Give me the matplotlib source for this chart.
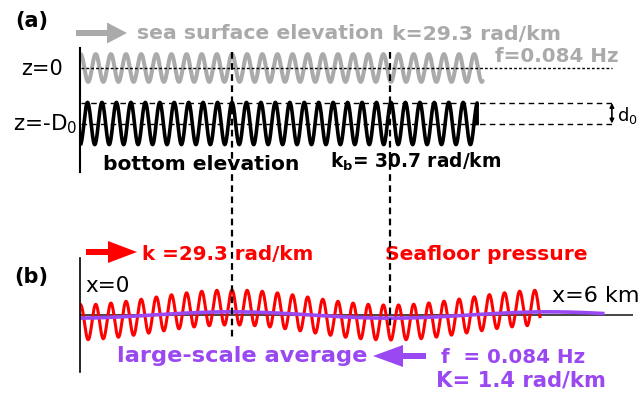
import numpy as np
import matplotlib
matplotlib.use("Agg")
import matplotlib.pyplot as plt
from matplotlib.patches import FancyArrow
from matplotlib.transforms import blended_transform_factory

# ---- data (values read from the schematic) ----
k_surface = 29.3      # rad/km, sea surface wave
k_bottom = 30.7       # rad/km, bottom undulation
K_large = 1.4         # rad/km, large-scale pattern (k_b - k)
f_wave = 0.084        # Hz
amp_surface = 0.25    # in units of D0
amp_bottom = 0.38
d0 = 0.37
amp_pressure = 1.0    # normalised seafloor pressure
mean_pressure = 0.43
amp_average = 0.18
x_phase = 2.139       # km, where surface and bottom are in phase
x_surface_end = 5.69
x_red_end = 6.50
x_avg_end = 7.39
x_line_end = 7.52
x_axis_end = 7.819

W, H = 643, 393
fig = plt.figure(figsize=(W / 100, H / 100), dpi=100)

def fr(px0, py0, px1, py1):
    return [px0 / W, 1 - py1 / H, (px1 - px0) / W, (py1 - py0) / H]

x_left = -1 / 70.6

# ---- panel (a) ----
axA = fig.add_axes(fr(80, 48, 633, 172))
axA.set_xlim(x_left, x_axis_end)
axA.set_ylim(-104 / 55.5, 20 / 55.5)
axA.patch.set_alpha(0)
for s in ["top", "right", "bottom"]:
    axA.spines[s].set_visible(False)
axA.spines["left"].set_linewidth(1.5)
axA.set_xticks([]); axA.set_yticks([])

lam_s = 2 * np.pi / k_surface
lam_b = 2 * np.pi / k_bottom
x_half = np.pi / K_large

xs = np.linspace(0, x_surface_end, 1500)
axA.plot(xs, amp_surface * np.cos(k_surface * (xs - x_phase)),
         color="#aaaaaa", lw=2.9, solid_capstyle="round")
xb_end = x_phase + x_half + 6 * lam_b
xb = np.linspace(0, xb_end, 1500)
zb = -1 + amp_bottom * np.cos(k_bottom * (xb - x_phase))
xb = np.append(xb, xb_end); zb = np.append(zb, -1)
axA.plot(xb, zb, color="black", lw=2.6)

axA.plot([0, x_line_end], [0, 0], color="black", lw=1.0, dashes=(2, 1.5))
axA.plot([0, x_line_end], [-1, -1], color="black", lw=1.0, dashes=(4, 3))
axA.plot([0, x_line_end], [-1 + d0, -1 + d0], color="black", lw=1.0, dashes=(4, 3))
axA.annotate("", xy=(x_line_end, -1 + d0), xytext=(x_line_end, -1),
             arrowprops=dict(arrowstyle="<|-|>", lw=1.2, color="black",
                             mutation_scale=6, shrinkA=0, shrinkB=0))

# ---- panel (b) ----
axB = fig.add_axes(fr(80, 258, 633, 372))
axB.set_xlim(x_left, x_axis_end)
axB.set_ylim(-57 / 17.5, 57 / 17.5)
axB.patch.set_alpha(0)
for s in ["top", "right", "bottom"]:
    axB.spines[s].set_visible(False)
axB.spines["left"].set_linewidth(1.2)
axB.set_xticks([]); axB.set_yticks([])

axB.plot([x_left, x_axis_end], [0, 0], color="#444444", lw=1.4)
xr = np.linspace(0, x_red_end, 1500)
axB.plot(xr, mean_pressure * np.cos(K_large * (xr - x_phase))
         + amp_pressure * np.cos(k_surface * (xr - x_phase)),
         color="#ff0000", lw=2.2)
xp = np.linspace(x_left, x_avg_end, 500)
axB.plot(xp, amp_average * np.cos(K_large * (xp - x_phase)),
         color="#9a48f2", lw=2.6)

# vertical dashed guide lines spanning both panels
tr = blended_transform_factory(axA.transData, fig.transFigure)
for xv, ybot in [(x_phase, 337), (x_phase + x_half, 330)]:
    fig.add_artist(plt.Line2D([xv, xv], [1 - 52 / H, 1 - ybot / H], transform=tr,
                              color="black", lw=1.6, dashes=(3, 2), zorder=5))

# ---- overlay for text and arrows ----
ov = fig.add_axes([0, 0, 1, 1])
ov.set_xlim(0, W); ov.set_ylim(H, 0); ov.axis("off"); ov.patch.set_alpha(0)

GRAY = "#aaaaaa"; RED = "#ff0000"; PUR = "#9a48f2"

def T(x, y, s, size, color="black", bold=True, ha="left"):
    ov.text(x, y, s, fontsize=size, color=color, ha=ha, va="baseline",
            fontweight="bold" if bold else "normal", family="DejaVu Sans")

T(15, 27.5, "(a)", 15)
T(137, 39, "sea surface elevation", 14.7, GRAY)
T(392, 39.5, "k=29.3 rad/km", 14.7, GRAY)
T(495, 62.5, "f=0.084 Hz", 14.3, GRAY)
T(63, 75, "z=0", 15, bold=False, ha="right")
T(77, 130, r"z=-D$_0$", 15.5, bold=False, ha="right")
T(617, 121.5, r"d$_0$", 13, bold=False)
T(103, 169.5, "bottom elevation", 14.6)
T(330, 168, r"k$_{\bf b}$= 30.7 rad/km", 13.4)

T(14, 283.5, "(b)", 15)
T(142, 260, "k =29.3 rad/km", 14.3, RED)
T(385, 260, "Sea\ufb02oor pressure", 14.6, RED)
T(85, 291.5, "x=0", 15.5, bold=False)
T(552, 301.5, "x=6 km", 16, bold=False)
T(117, 361.5, "large-scale average", 16.2, PUR)
T(441, 363, "f  = 0.084 Hz", 14.3, PUR)
T(436, 386.5, "K= 1.4 rad/km", 15.2, PUR)

ov.add_patch(FancyArrow(76, 33, 51, 0, width=6, head_width=21, head_length=20,
                        length_includes_head=True, color=GRAY, lw=0))
ov.add_patch(FancyArrow(86, 252, 51, 0, width=6, head_width=22, head_length=29,
                        length_includes_head=True, color=RED, lw=0))
ov.add_patch(FancyArrow(426, 356, -53, 0, width=6, head_width=22, head_length=30,
                        length_includes_head=True, color=PUR, lw=0))

fig.savefig("out.png", dpi=100)
